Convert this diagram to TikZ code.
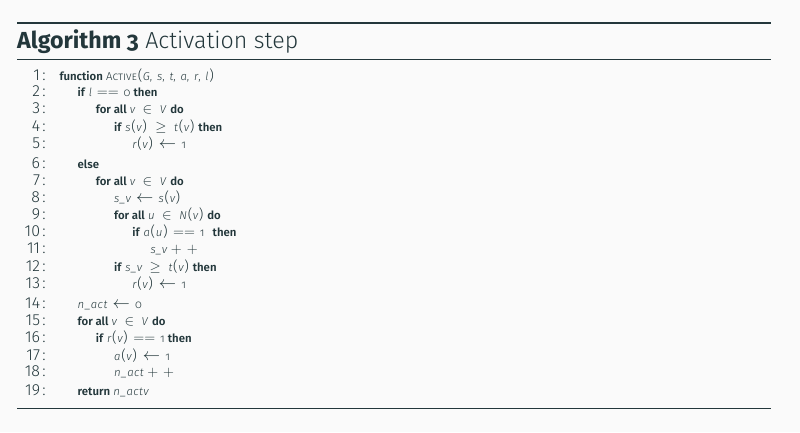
\documentclass[tikz,border=0pt]{standalone}
\usepackage[no-math]{fontspec}
\setmainfont{Fira Sans}[UprightFont={* Light}, ItalicFont={* Light Italic}, BoldFont={* SemiBold}, BoldItalicFont={* SemiBold Italic}]
\newfontfamily\oldnum{Fira Sans}[UprightFont={* Light}, Numbers=OldStyle]
\newfontfamily\headbold{Fira Sans}[UprightFont={* Bold}, Numbers=OldStyle]
\newfontfamily\mitfont{Fira Sans}[UprightFont={* Light Italic}, LetterSpace=4]
\definecolor{mdark}{HTML}{23373B}
\definecolor{mbg}{HTML}{FAFAFA}
\newcommand{\kw}[1]{\textbf{#1}}
\newcommand{\vv}[1]{{\mitfont #1}}
\newcommand{\on}[1]{{\oldnum #1}}
\newcommand{\pl}{{\fontsize{14}{14}\selectfont\kern0.8pt(\kern0.6pt}}
\newcommand{\pr}{{\fontsize{14}{14}\selectfont\kern0.6pt)\kern0.8pt}}
\newcommand{\cm}{,\hspace{4.8pt}}
\newcommand{\rel}[1]{\hspace{7.6pt}{\fontsize{15}{15}\selectfont$#1$}\hspace{7.6pt}}
\newcommand{\eqeq}{\hspace{4.8pt}{\fontsize{15.5}{15.5}\selectfont$==$}\hspace{4.8pt}}
\newcommand{\arr}{\hspace{5.2pt}{\fontsize{16.5}{16.5}\selectfont$\leftarrow$}\hspace{5.2pt}}
\newcommand{\pp}{\hspace{3.5pt}{\fontsize{15}{15}\selectfont$+$\hspace{5pt}$+$}}
\tikzset{
  num/.style={anchor=base east, inner sep=0pt, font=\fontsize{16}{18}\selectfont, text=mdark},
  code/.style={anchor=base west, inner sep=0pt, font=\fontsize{11.4}{13}\selectfont, text=mdark},
  head/.style={anchor=base west, inner sep=0pt, font=\fontsize{23.2}{27}\selectfont, text=mdark},
  rulethick/.style={draw=mdark, line width=2pt},
  rulethin/.style={draw=mdark, line width=1pt},
}
\begin{document}
\begin{tikzpicture}[x=1pt, y=-1pt]
\fill[mbg] (0,0) rectangle (800,432);
\useasboundingbox (0,0) rectangle (800,432);
\draw[rulethick] (17,22.8) -- (771,22.8);
\node[head] (h) at (17,48.5) {{\headbold Algorithm 3} Activation step};
\draw[rulethin] (17,59.5) -- (771,59.5);
\draw[rulethin] (17,408.5) -- (771,408.5);
\def\ind{18.2}
\def\xs{59.3}
\foreach \i/\y/\lv/\t in {
 1/80.2/0/{\kw{function} \textsc{Active}\pl\vv{G}\cm\vv{s}\cm\vv{t}\cm\vv{a}\cm\vv{r}\cm\vv{l}\pr},
 2/96.8/1/{\kw{if} \vv{l}\eqeq\on{0} \kw{then}},
 3/113.5/2/{\kw{for all} \vv{v}\rel{\in}\vv{V} \kw{do}},
 4/131.2/3/{\kw{if} \vv{s}\pl\vv{v}\pr\rel{\geq}\vv{t}\pl\vv{v}\pr\ \kw{then}},
 5/148.5/4/{\vv{r}\pl\vv{v}\pr\arr\on{1}},
 6/168.5/1/{\kw{else}},
 7/185.2/2/{\kw{for all} \vv{v}\rel{\in}\vv{V} \kw{do}},
 8/202.5/3/{\vv{s\_v}\arr\vv{s}\pl\vv{v}\pr},
 9/219.2/3/{\kw{for all} \vv{u}\rel{\in}\vv{N}\pl\vv{v}\pr\ \kw{do}},
 10/236.2/4/{\kw{if} \vv{a}\pl\vv{u}\pr\eqeq\on{1}\hspace{5pt} \kw{then}},
 11/253.5/5/{\vv{s\_v}\pp},
 12/271.8/3/{\kw{if} \vv{s\_v}\rel{\geq}\vv{t}\pl\vv{v}\pr\ \kw{then}},
 13/288.5/4/{\vv{r}\pl\vv{v}\pr\arr\on{1}},
 14/308.5/1/{\vv{n\_act}\arr\on{0}},
 15/325.5/1/{\kw{for all} \vv{v}\rel{\in}\vv{V} \kw{do}},
 16/342.5/2/{\kw{if} \vv{r}\pl\vv{v}\pr\eqeq\on{1} \kw{then}},
 17/360.2/3/{\vv{a}\pl\vv{v}\pr\arr\on{1}},
 18/376.8/3/{\vv{n\_act}\pp},
 19/395.2/1/{\kw{return} \vv{n\_actv}}} {
  \node[num] (n\i) at (46,\y) {\i\kern2.4pt:};
  \node[code] (l\i) at ({\xs+\lv*\ind},\y) {\t};
}
\end{tikzpicture}
\end{document}
